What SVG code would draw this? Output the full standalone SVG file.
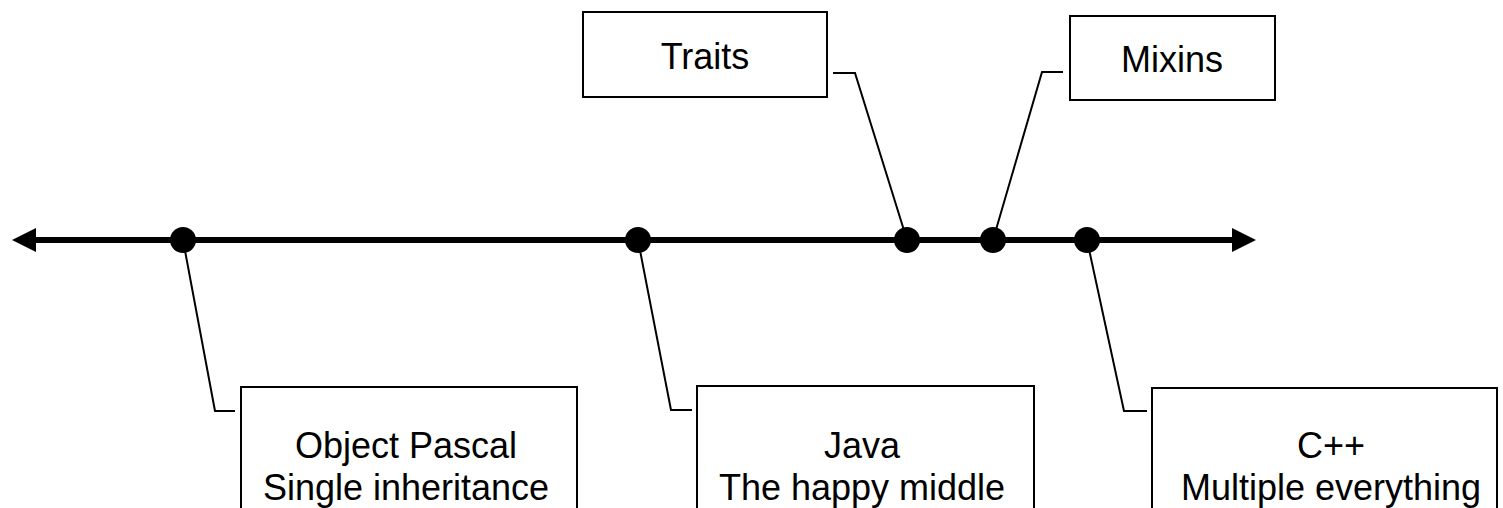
<svg xmlns="http://www.w3.org/2000/svg" width="1503" height="508" viewBox="0 0 1503 508">
<style>
.box{fill:#fff;stroke:#000;stroke-width:2}
.lbl{font-family:"Liberation Sans",Arial,sans-serif;font-size:36px;fill:#000;text-anchor:middle}
.lead{fill:none;stroke:#000;stroke-width:2}
.dot{fill:#000}
</style>
<g id="connectors">
<line x1="34" y1="240" x2="1234" y2="240" stroke="#000" stroke-width="6"/>
<polygon points="12,240 36,228 36,252" fill="#000"/>
<polygon points="1256,240 1232,228 1232,252" fill="#000"/>
<polyline class="lead" points="833,73 855,73 907,240"/>
<polyline class="lead" points="1063,72 1042,72 993,240"/>
<polyline class="lead" points="183,240 215,411 235,411"/>
<polyline class="lead" points="638,240 671,410 692,410"/>
<polyline class="lead" points="1087,240 1124,411 1147,411"/>
<circle class="dot" cx="183" cy="240" r="13"/>
<circle class="dot" cx="638" cy="240" r="13"/>
<circle class="dot" cx="907" cy="240" r="13"/>
<circle class="dot" cx="993" cy="240" r="13"/>
<circle class="dot" cx="1087" cy="240" r="13"/>
</g>
<g id="traits">
<rect class="box" x="583" y="12" width="244" height="85"/>
<text class="lbl" x="705" y="69">Traits</text>
</g>
<g id="mixins">
<rect class="box" x="1070" y="16" width="205" height="84"/>
<text class="lbl" x="1172" y="72">Mixins</text>
</g>
<g id="object-pascal">
<rect class="box" x="241" y="387" width="336" height="140"/>
<text class="lbl" x="406" y="458">Object Pascal</text>
<text class="lbl" x="406" y="500">Single inheritance</text>
</g>
<g id="java">
<rect class="box" x="697" y="386" width="337" height="140"/>
<text class="lbl" x="862" y="458">Java</text>
<text class="lbl" x="862" y="500">The happy middle</text>
</g>
<g id="cpp">
<rect class="box" x="1152" y="388" width="345" height="140"/>
<text class="lbl" x="1331" y="458">C++</text>
<text class="lbl" x="1331" y="500">Multiple everything</text>
</g>
</svg>
